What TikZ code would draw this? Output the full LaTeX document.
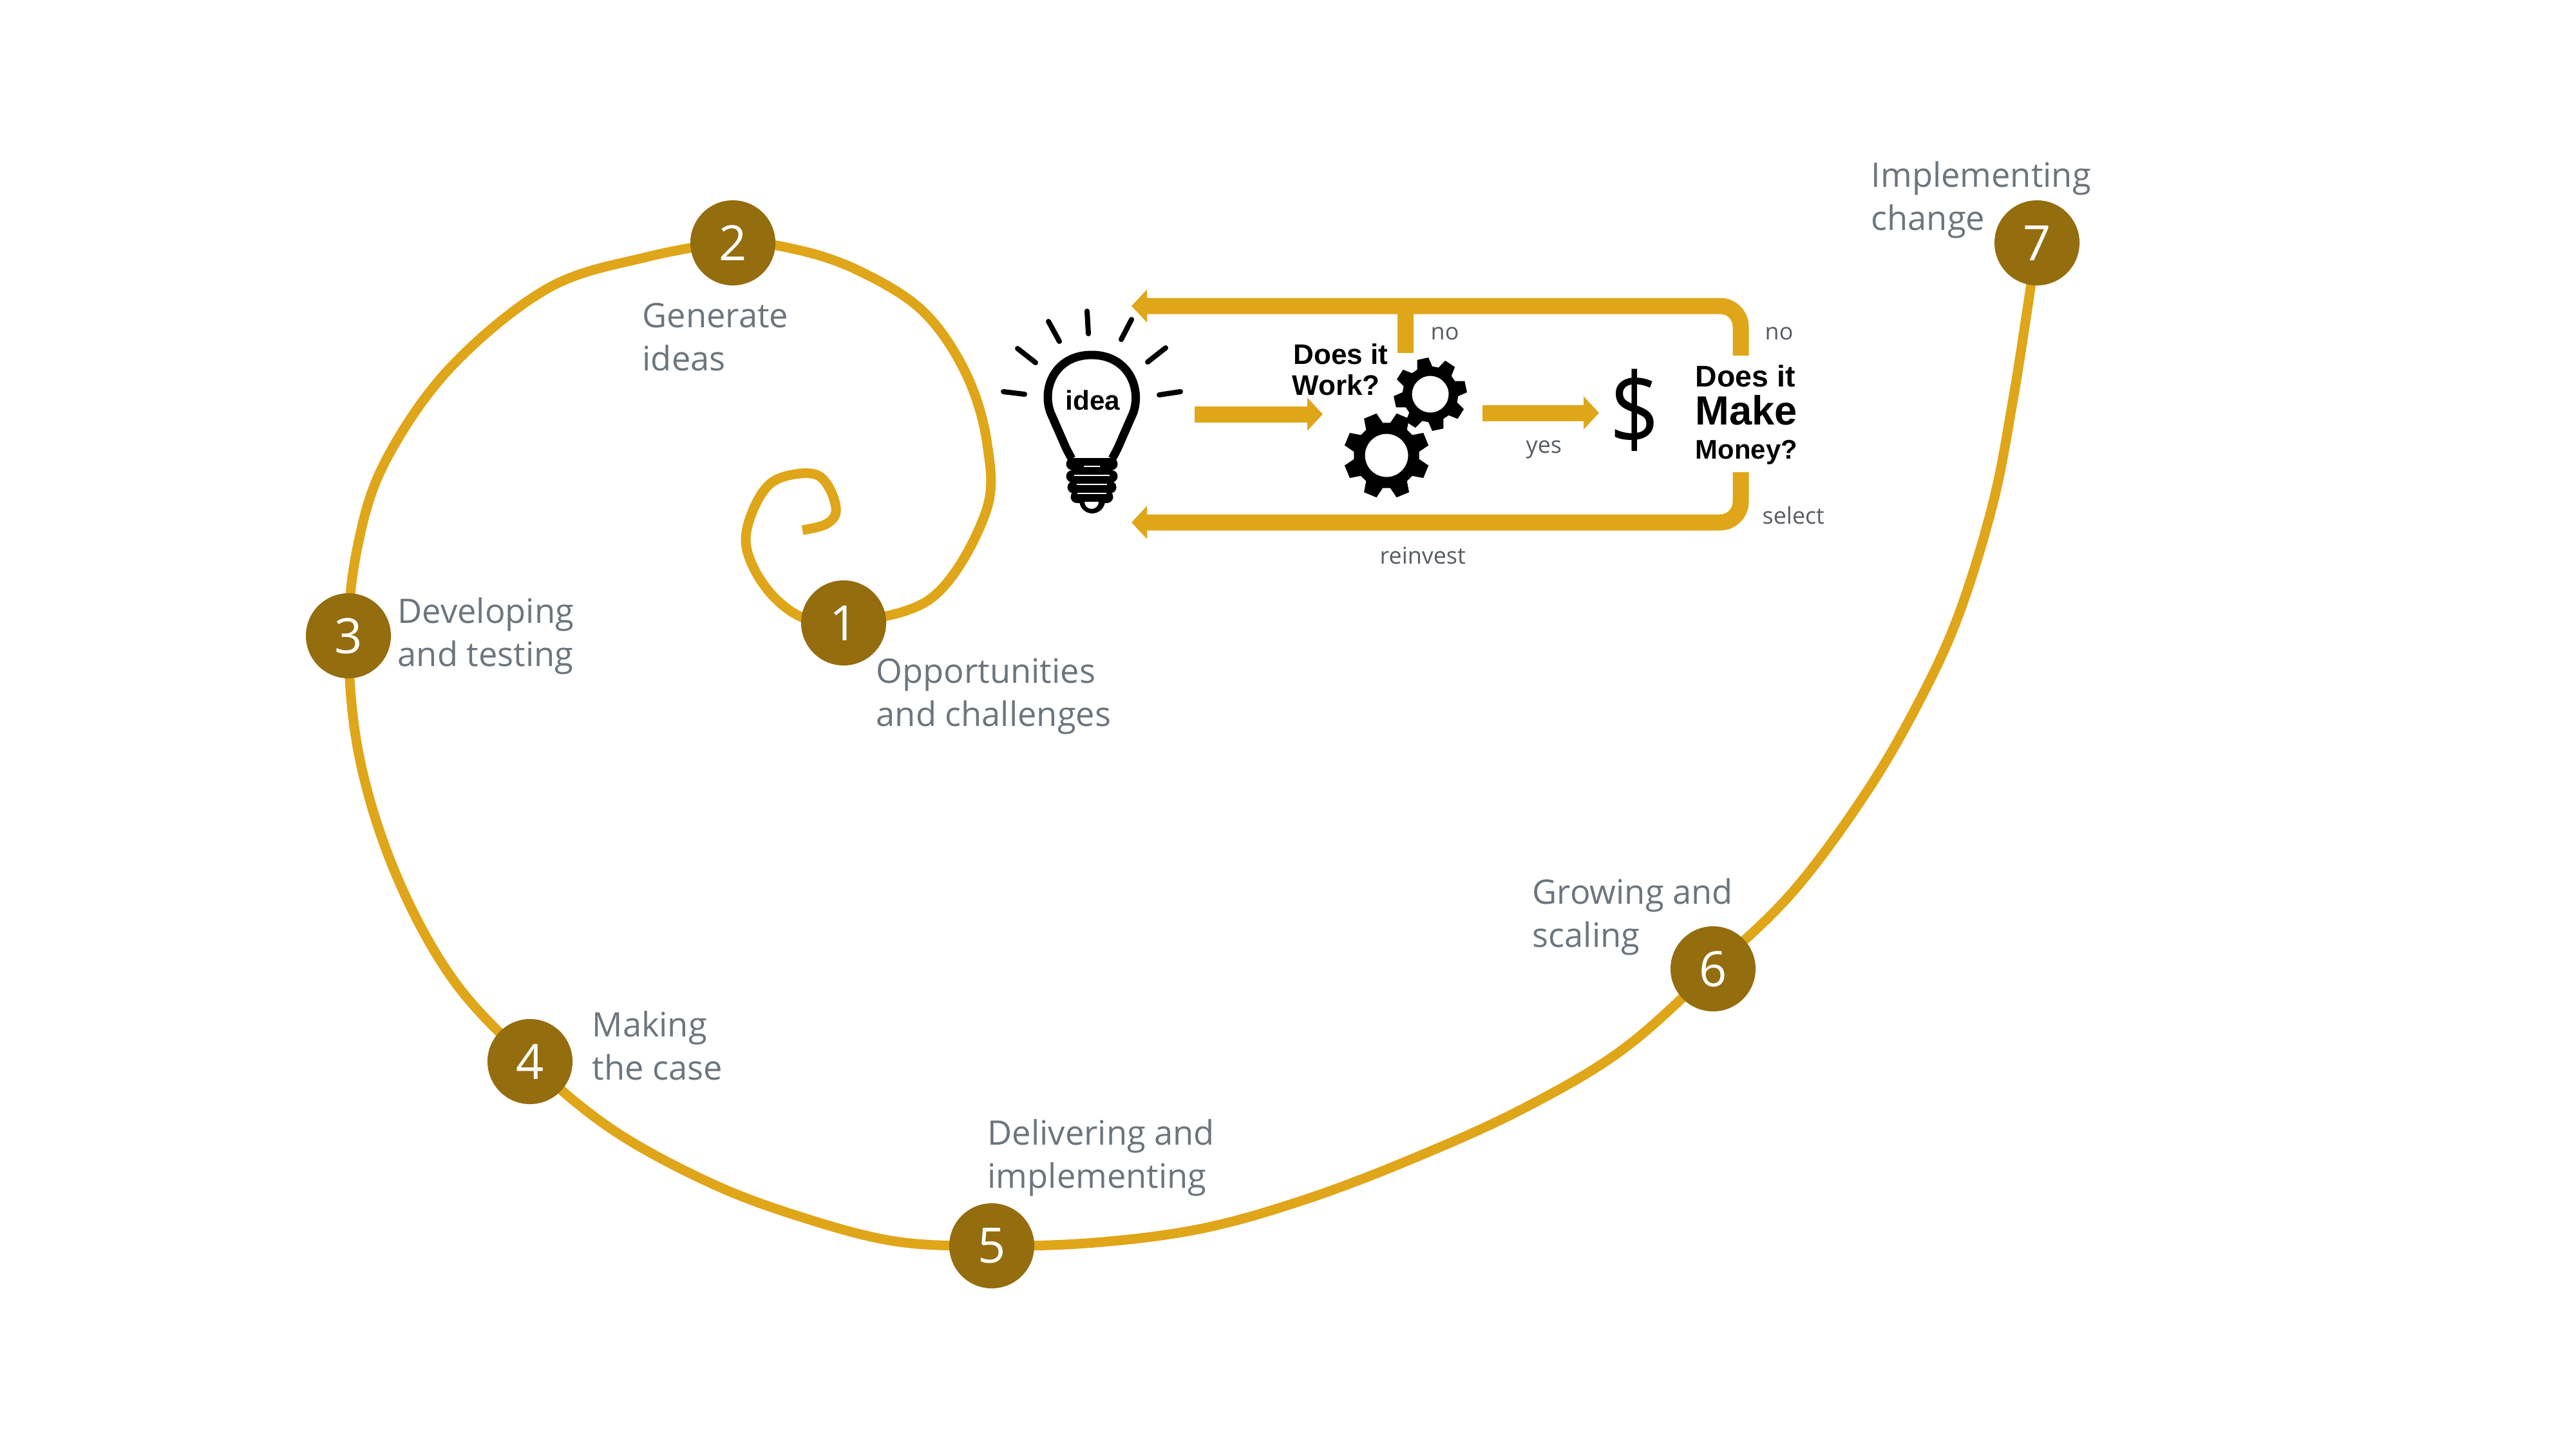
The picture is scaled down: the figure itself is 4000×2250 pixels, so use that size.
\documentclass[tikz,border=0pt]{standalone}
\usepackage{fontspec}
\setmainfont{Open Sans}
\newfontfamily\askfont{Liberation Sans}
\usetikzlibrary{arrows.meta, backgrounds}
\definecolor{spiralgold}{HTML}{DFA61A}
\definecolor{stagebrown}{HTML}{946D0F}
\definecolor{labelgray}{HTML}{6C757D}
\definecolor{notegray}{HTML}{565C64}
\tikzset{
  stage dot/.style={
    circle,
    fill=stagebrown,
    text=white,
    inner sep=0pt,
    minimum size=1.32cm,
    font=\fontsize{21.5}{24}\selectfont
  },
  stage label/.style={
    anchor=base west,
    align=left,
    inner sep=0pt,
    text=labelgray,
    font=\fontsize{14.9}{18.8}\selectfont
  },
  note label/.style={
    anchor=base west,
    inner sep=0pt,
    text=notegray,
    font=\fontsize{10.2}{12}\selectfont
  },
  ask label/.style={
    anchor=base west,
    inner sep=0pt,
    font=\askfont\bfseries\fontsize{#1}{#1}\selectfont
  },
  spiral line/.style={
    line width=.15cm,
    color=spiralgold
  },
  flow line/.style={
    line width=.25cm,
    color=spiralgold,
    rounded corners=.32cm
  },
  flow arrow/.style={
    flow line,
    -{Triangle[length=.24cm,width=.5cm]}
  },
  bulb ray/.style={
    line width=.08cm,
    line cap=round
  },
  gearwheel/.pic={
    \fill[even odd rule] (-16:.76)
      \foreach \a in {0,45,...,315} {
        -- ({\a-16}:.76) -- ({\a-9}:1) -- ({\a+9}:1) -- ({\a+16}:.76)
      } -- cycle
      (0,0) circle (.5);
  }
}

\begin{document}
\begin{tikzpicture}[x=.01cm, y=-.01cm]
  \useasboundingbox (0,0) rectangle (4000,2250);

  %% ---- stages on the spiral ----
  \node[stage dot] (s1) at (1310,967)  {1};
  \node[stage dot] (s2) at (1138,377)  {2};
  \node[stage dot] (s3) at (541,987)   {3};
  \node[stage dot] (s4) at (823,1648)  {4};
  \node[stage dot] (s5) at (1540,1934) {5};
  \node[stage dot] (s6) at (2660,1504) {6};
  \node[stage dot] (s7) at (3163,377)  {7};

  % anchors sit on the last line of each label
  \node[stage label] (l1) at (1360,1127) {Opportunities\\and challenges};
  \node[stage label] (l2) at (997,575)   {Generate\\ideas};
  \node[stage label] (l3) at (617,1034)  {Developing\\and testing};
  \node[stage label] (l4) at (919,1676)  {Making\\the case};
  \node[stage label] (l5) at (1533,1844) {Delivering and\\implementing};
  \node[stage label] (l6) at (2379,1470) {Growing and\\scaling};
  \node[stage label] (l7) at (2905,357)  {Implementing\\change};

  %% ---- the spiral itself, behind the dots ----
  \begin{scope}[on background layer]
    \draw[spiral line] plot[smooth, tension=.6] coordinates {
      (1246,823) (1282,814) (1298,795) (1290,762) (1270,738) (1235,736)
      (1197,750) (1171,788) (1158,838) (1172,885) (1205,930) (1250,960)
      (s1.center) (1447,928) (1530,797) (1533,690) (1500,580) (1433,483)
      (1333,420) (1235,387) (s2.center) (1000,400) (850,448) (700,570)
      (600,713) (557,840) (s3.center) (557,1170) (613,1353) (703,1520)
      (s4.center) (950,1753) (1100,1835) (1240,1888) (1390,1927)
      (s5.center) (1700,1929) (1867,1907) (2030,1861) (2200,1796)
      (2367,1720) (2520,1629) (s6.center) (2785,1383) (2900,1227)
      (2983,1083) (3043,950) (3095,780) (3125,625) (3148,480) (s7.center)
    };
  \end{scope}

  %% ---- light bulb ----
  \draw[line width=.13cm]
      (1664,712) -- (1656,697) -- (1631,640)
      .. controls (1617,600) and (1640,551) .. (1695,551)
      .. controls (1750,551) and (1773,600) .. (1760,640)
      -- (1735,697) -- (1727,712);
  \foreach \y/\x in {720/1665, 739/1665, 756/1667, 771/1672} {
    \draw[line width=.19cm, line cap=round] (\x,\y) -- ({3391-\x},\y);
  }
  \fill (1676,775) -- (1716,775) -- (1716,777) arc[start angle=0, end angle=180, radius=20] -- cycle;
  \fill[white] (1684,779) -- (1706,779) arc[start angle=0, end angle=180, radius=11] -- cycle;
  \foreach \y/\x in {724/1683, 738/1668, 752/1672, 766/1673} {
    \draw[white, line width=.015cm] (\x,\y) -- ({3391-\x},\y);
  }
  \foreach \xa/\ya/\xb/\yb in {
      1558/608/1591/612, 1580/541/1608/563, 1628/499/1645/530,
      1688/483/1690/518, 1757/496/1741/527, 1810/540/1782/562,
      1833/608/1800/613} {
    \draw[bulb ray] (\xa,\ya) -- (\xb,\yb);
  }
  \node[ask label=12] (idea) at (1654,636) {idea};

  %% ---- gears and dollar sign ----
  \pic[rotate=22.5, scale=67] at (2153,707) {gearwheel};
  \pic[rotate=12, scale=57]   at (2221,612) {gearwheel};
  \node[inner sep=0pt, yscale=1.15, transform shape, font=\fontsize{38.6}{40}\selectfont]
      (dollar) at (2538,637) {\$};

  %% ---- questions ----
  \node[ask label=12.5] (work a) at (2008,565) {Does it};
  \node[ask label=12.5] (work b) at (2006,613) {Work?};
  \node[ask label=13.2] (make a) at (2632,600) {Does it};
  \node[ask label=18]   (make b) at (2632,659) {Make};
  \node[ask label=11.9] (make c) at (2632,712) {Money?};

  %% ---- loop arrows ----
  \coordinate (idea out)   at (1855,643);
  \coordinate (gear in)    at (2054,643);
  \coordinate (gear out)   at (2302,641);
  \coordinate (dollar in)  at (2483,641);
  \coordinate (money top)  at (2703,552);
  \coordinate (money low)  at (2703,733);
  \coordinate (back top)   at (1757,475);
  \coordinate (back low)   at (1757,811);
  \coordinate (work top)   at (2182,548);
  \coordinate (work join)  at (2182,475);

  \draw[flow arrow] (idea out) -- (gear in);
  \draw[flow arrow] (gear out) -- (dollar in);
  \draw[flow arrow] (money top) |- (back top);
  \draw[flow arrow] (money low) |- (back low);
  \draw[flow line]  (work top) -- (work join);

  %% ---- flow labels ----
  \node[note label] (no a)     at (2221,527) {no};
  \node[note label] (no b)     at (2740,527) {no};
  \node[note label] (yes)      at (2369,703) {yes};
  \node[note label] (select)   at (2736,813) {select};
  \node[note label] (reinvest) at (2142,875) {reinvest};

\end{tikzpicture}
\end{document}
